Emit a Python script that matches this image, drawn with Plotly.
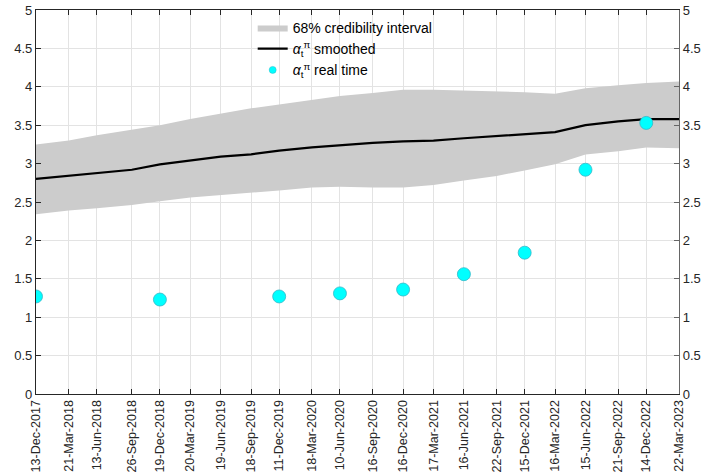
import plotly.graph_objects as go

dates = ["2017-12-13", "2018-03-21", "2018-06-13", "2018-09-26", "2018-12-19",
         "2019-03-20", "2019-06-19", "2019-09-18", "2019-12-11", "2020-03-18",
         "2020-06-10", "2020-09-16", "2020-12-16", "2021-03-17", "2021-06-16",
         "2021-09-22", "2021-12-15", "2022-03-16", "2022-06-15", "2022-09-21",
         "2022-12-14", "2023-03-22"]
tick_labels = ["13-Dec-2017", "21-Mar-2018", "13-Jun-2018", "26-Sep-2018", "19-Dec-2018",
               "20-Mar-2019", "19-Jun-2019", "18-Sep-2019", "11-Dec-2019", "18-Mar-2020",
               "10-Jun-2020", "16-Sep-2020", "16-Dec-2020", "17-Mar-2021", "16-Jun-2021",
               "22-Sep-2021", "15-Dec-2021", "16-Mar-2022", "15-Jun-2022", "21-Sep-2022",
               "14-Dec-2022", "22-Mar-2023"]
smoothed = [2.80, 2.84, 2.88, 2.92, 2.99, 3.04, 3.09, 3.12, 3.17, 3.21, 3.24,
            3.27, 3.29, 3.30, 3.33, 3.36, 3.38, 3.41, 3.50, 3.55, 3.58, 3.58]
upper = [3.25, 3.30, 3.37, 3.44, 3.50, 3.58, 3.65, 3.72, 3.77, 3.83, 3.88,
         3.92, 3.96, 3.96, 3.95, 3.93, 3.93, 3.91, 3.98, 4.02, 4.05, 4.07]
lower = [2.34, 2.39, 2.42, 2.46, 2.51, 2.56, 2.59, 2.62, 2.65, 2.69, 2.70,
         2.69, 2.69, 2.72, 2.78, 2.84, 2.91, 2.99, 3.12, 3.16, 3.21, 3.20]
rt_dates = ["2017-12-13", "2018-12-19", "2019-12-11", "2020-06-10", "2020-12-16",
            "2021-06-16", "2021-12-15", "2022-06-15", "2022-12-14"]
rt_values = [1.27, 1.23, 1.27, 1.31, 1.36, 1.56, 1.84, 2.92, 3.53]
y_ticks = [0, 0.5, 1, 1.5, 2, 2.5, 3, 3.5, 4, 4.5, 5]
y_tick_labels = ["0", "0.5", "1", "1.5", "2", "2.5", "3", "3.5", "4", "4.5", "5"]

font_family = "Liberation Sans, Arial, sans-serif"
axis_col = "#262626"
grid_col = "#e3e3e3"
rt_name = "<i>α</i><sub>t</sub><sup>π</sup> real time"

fig = go.Figure()
fig.add_trace(go.Scatter(
    x=dates + dates[::-1], y=upper + lower[::-1],
    fill="toself", fillcolor="#cccccc", line=dict(width=0, color="#cccccc"),
    mode="lines", name="68% credibility interval", hoverinfo="skip"))
fig.add_trace(go.Scatter(
    x=dates, y=smoothed, mode="lines", line=dict(color="black", width=2.2),
    name="<i>α</i><sub>t</sub><sup>π</sup> smoothed"))
fig.add_trace(go.Scatter(
    x=rt_dates, y=rt_values, mode="markers",
    marker=dict(color="#00ffff", size=13, line=dict(color="#33b8c8", width=0.8)),
    name=rt_name, showlegend=False))
# legend-only entry with a small symbol, as in the reference
fig.add_trace(go.Scatter(
    x=[None], y=[None], mode="markers",
    marker=dict(color="#00ffff", size=7, line=dict(color="#33b8c8", width=0.5)),
    name=rt_name))
# invisible trace to activate the right-hand axis
fig.add_trace(go.Scatter(x=[dates[0]], y=[0], yaxis="y2", mode="markers",
                         marker=dict(opacity=0), showlegend=False, hoverinfo="skip"))

fig.update_layout(
    width=701, height=475,
    margin=dict(l=36, r=22, t=10, b=81, autoexpand=False),
    paper_bgcolor="white", plot_bgcolor="white",
    font=dict(family=font_family, size=13, color=axis_col),
    showlegend=True,
    legend=dict(x=0.337, y=0.995, xanchor="left", yanchor="top",
                bgcolor="rgba(0,0,0,0)", font=dict(size=14, color="black"),
                tracegroupgap=0),
    xaxis=dict(type="date", range=[dates[0], dates[-1]],
               tickmode="array", tickvals=dates, ticktext=tick_labels,
               tickangle=-90, tickfont=dict(size=12.5), automargin=False,
               showgrid=True, gridcolor=grid_col, gridwidth=1,
               showline=True, linecolor=axis_col, linewidth=1.3,
               mirror="ticks", ticks="inside", ticklen=5, tickcolor=axis_col,
               zeroline=False),
    yaxis=dict(range=[0, 5], tickmode="array", tickvals=y_ticks, ticktext=y_tick_labels,
               automargin=False,
               showgrid=True, gridcolor=grid_col, gridwidth=1,
               showline=True, linecolor=axis_col, linewidth=1.3,
               ticks="inside", ticklen=5, tickcolor=axis_col, zeroline=False),
    yaxis2=dict(range=[0, 5], overlaying="y", side="right", tickmode="array",
                tickvals=y_ticks, ticktext=y_tick_labels, automargin=False,
                showgrid=False, showline=True, linecolor="#666666", linewidth=1.3,
                ticks="inside", ticklen=5, tickcolor="#666666", zeroline=False),
)

fig.write_html("out.html")
